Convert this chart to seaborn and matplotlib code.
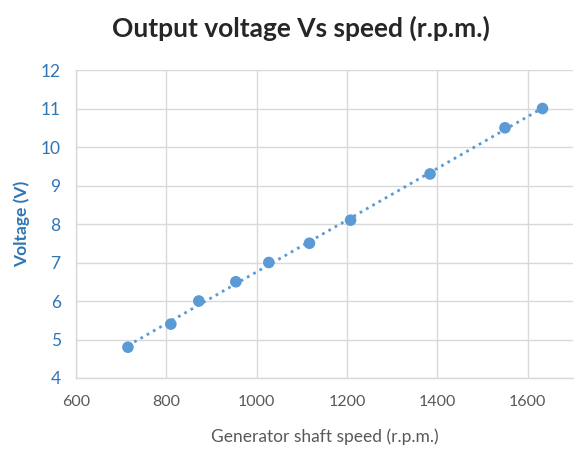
import matplotlib
matplotlib.use("Agg")
import matplotlib.pyplot as plt
import numpy as np
import pandas as pd
import seaborn as sns

# generator speed (r.p.m.) and measured output voltage (V)
speed_rpm = [715, 810, 872, 954, 1027, 1117, 1208, 1384, 1550, 1633]
voltage_v = [4.8, 5.4, 6.0, 6.5, 7.0, 7.5, 8.1, 9.3, 10.5, 11.0]

x_ticks = [600, 800, 1000, 1200, 1400, 1600]
y_ticks = [4, 5, 6, 7, 8, 9, 10, 11, 12]

BLUE = "#5B9BD5"
AXIS_BLUE = "#2E75B6"
GRAY_TEXT = "#595959"
GRID = "#D9D9D9"

sns.set_style("white")
plt.rcParams["font.family"] = ["Lato", "DejaVu Sans"]

df = pd.DataFrame({"speed": speed_rpm, "voltage": voltage_v})

fig = plt.figure(figsize=(5.74, 4.5), dpi=100)
ax = fig.add_axes([0.1324, 0.16, 0.8654, 0.6844])

# linear trendline, dotted, over the span of the data
sns.regplot(data=df, x="speed", y="voltage", ax=ax, ci=None, scatter=False,
            truncate=True,
            line_kws={"color": BLUE, "linestyle": (0, (1, 1.6)), "linewidth": 2})
sns.scatterplot(data=df, x="speed", y="voltage", ax=ax, color=BLUE, s=70,
                edgecolor="none", zorder=3)

ax.set_xlim(600, 1700)
ax.set_ylim(4, 12)
ax.set_xticks(x_ticks)
ax.set_yticks(y_ticks)
ax.grid(True, color=GRID, linewidth=1)
ax.set_axisbelow(True)

for side in ["top", "right"]:
    ax.spines[side].set_visible(False)
for side in ["left", "bottom"]:
    ax.spines[side].set_color(GRID)
    ax.spines[side].set_linewidth(1)

ax.tick_params(axis="both", length=5, width=1, color=GRID)
ax.tick_params(axis="x", labelsize=11.5, labelcolor=GRAY_TEXT, pad=7)
ax.tick_params(axis="y", labelsize=12.5, labelcolor=AXIS_BLUE, pad=6)

ax.set_xlabel("Generator shaft speed (r.p.m.)", fontsize=12.5, color=GRAY_TEXT,
              labelpad=14)
ax.set_ylabel("Voltage (V)", fontsize=12.5, color=AXIS_BLUE, fontweight="bold",
              labelpad=8)

fig.suptitle("Output voltage Vs speed (r.p.m.)", fontsize=19, fontweight="bold",
             x=0.525, y=0.965)

fig.savefig("out.png", dpi=100)
